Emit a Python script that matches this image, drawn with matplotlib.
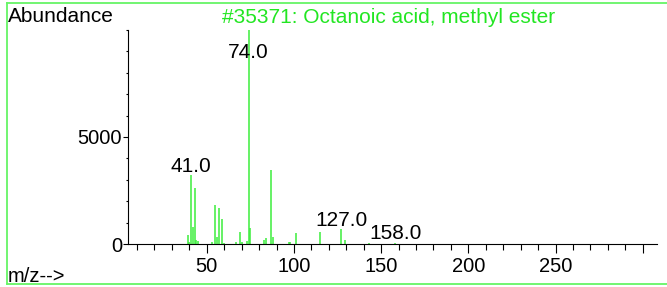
import numpy as np
import matplotlib
matplotlib.use("Agg")
from matplotlib import pyplot as plt
from matplotlib.lines import Line2D
from matplotlib.ticker import MultipleLocator, FixedLocator

# spectrum
mz = [39, 40, 41, 42, 43, 44, 45, 53, 55, 56, 57, 59, 60,
      67, 69, 70, 73, 74, 75, 83, 84, 87, 88, 97, 98, 101,
      115, 127, 129, 143, 158]
abund = [420, 100, 3220, 790, 2630, 190, 140, 100, 1820, 310, 1680, 1170, 60,
         90, 560, 90, 150, 9990, 730, 190, 270, 3470, 320, 100, 100, 500,
         550, 700, 190, 30, 50]
labeled = [41, 74, 127, 158]
title = "#35371: Octanoic acid, methyl ester"
xticks_lab = [50, 100, 150, 200, 250]

W, H = 667, 287
plt.rcParams['font.family'] = ['Liberation Sans', 'DejaVu Sans']
green = "#3cee3c"
fs = 14.5

fig = plt.figure(figsize=(W/100, H/100), dpi=100)
ax = fig.add_axes([128.3/W, 1-244/H, (656.7-128.3)/W, (244-30)/H])

ax.vlines(mz, 0, abund, color=green, lw=1.1)

ax.set_xlim(5, 308)
ax.set_ylim(0, 10000)
for s in ["top", "right"]:
    ax.spines[s].set_visible(False)
for s in ["left", "bottom"]:
    ax.spines[s].set_linewidth(0.8)

ax.xaxis.set_major_locator(FixedLocator(xticks_lab + [300]))
ax.set_xticklabels([str(v) for v in xticks_lab] + [""])
ax.xaxis.set_minor_locator(MultipleLocator(10))
ax.yaxis.set_major_locator(FixedLocator([0, 5000]))
ax.set_yticklabels(["0", "5000"])
ax.yaxis.set_minor_locator(MultipleLocator(1000))
ax.tick_params(axis="x", which="major", length=6.5, width=0.8, pad=3, labelsize=fs)
ax.tick_params(axis="x", which="minor", length=4, width=0.8)
ax.tick_params(axis="y", which="major", length=3.5, width=0.8, pad=1, labelsize=fs)
ax.tick_params(axis="y", which="minor", length=1.8, width=0.8)

# peak labels
top = ax.get_ylim()[1]
for m in labeled:
    v = abund[mz.index(m)]
    if v > 0.9 * top:
        ax.annotate(f"{m:.1f}", xy=(m, top), xytext=(0, -20.5), textcoords="offset points",
                    ha="center", va="baseline", fontsize=15)
    else:
        ax.annotate(f"{m:.1f}", xy=(m, v), xytext=(0, 2.5), textcoords="offset points",
                    ha="center", va="baseline", fontsize=15)

fig.text(8/W, 1-16/H, "Abundance", fontsize=15, va="center", ha="left")
fig.text(222/W, 1-17.5/H, title, fontsize=15, color="#22e622", va="center", ha="left")
fig.text(8/W, 1-276/H, "m/z-->", fontsize=fs, va="center", ha="left")

# frame around the whole picture
bc = "#66f566"
fig.add_artist(Line2D([7/W, 7/W], [1-3/H, 1-283.5/H], color=bc, lw=1.3))
fig.add_artist(Line2D([7/W, 1], [1-3/H, 1-3/H], color=bc, lw=1.3))
fig.add_artist(Line2D([7/W, 1], [1-283.5/H, 1-283.5/H], color=bc, lw=1.3))

fig.savefig("out.png", dpi=100)
plt.close()
